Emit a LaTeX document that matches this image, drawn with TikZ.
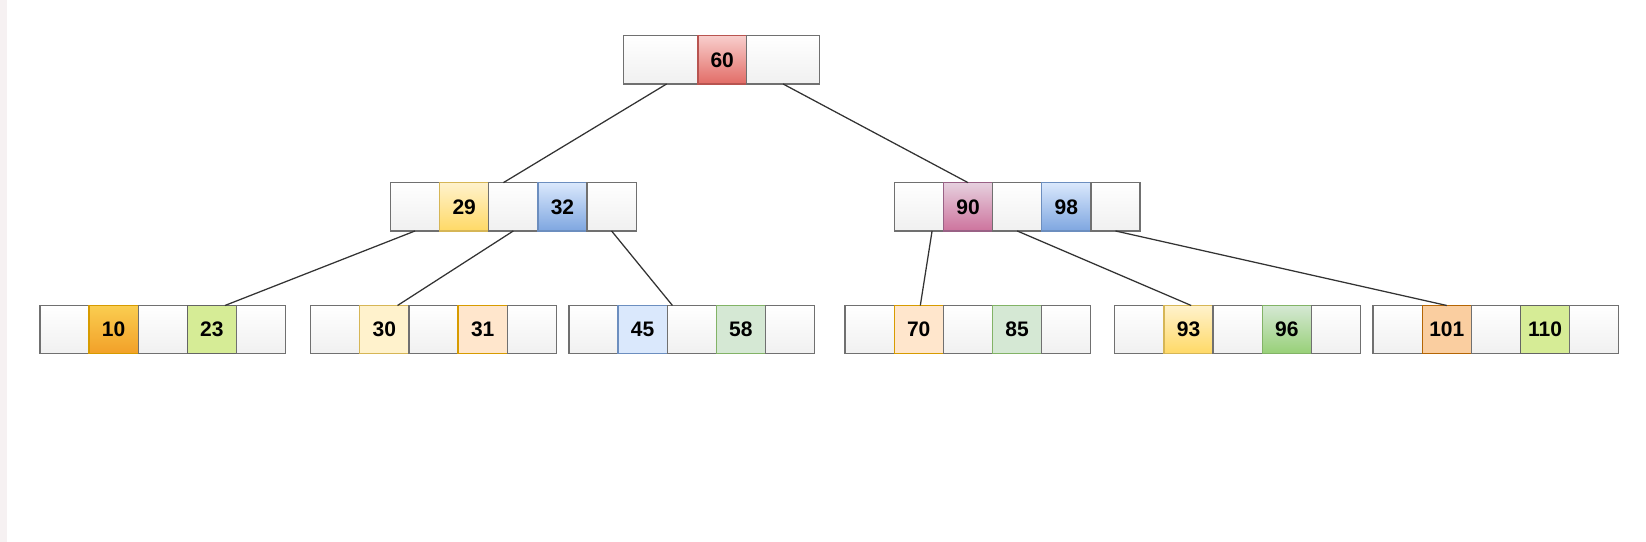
\documentclass[tikz,border=0pt]{standalone}
\usepackage{fontspec}
\setmainfont{Liberation Sans}
\usetikzlibrary{positioning}

\definecolor{boxline}{HTML}{707070}
\definecolor{emptygray}{HTML}{F0F0F0}
\definecolor{edgegray}{HTML}{333333}
\definecolor{strip}{HTML}{F6F1F2}
\definecolor{redline}{HTML}{B85450}
\definecolor{redtop}{HTML}{F8CECC}
\definecolor{redbot}{HTML}{E26C66}
\definecolor{yelline}{HTML}{D6B656}
\definecolor{yeltop}{HTML}{FFF2CC}
\definecolor{yelbot}{HTML}{FFD966}
\definecolor{blueline}{HTML}{6C8EBF}
\definecolor{bluetop}{HTML}{DAE8FC}
\definecolor{bluebot}{HTML}{7EA6E0}
\definecolor{pinkline}{HTML}{996185}
\definecolor{pinktop}{HTML}{E6D0DE}
\definecolor{pinkbot}{HTML}{CD739D}
\definecolor{orgline}{HTML}{D79B00}
\definecolor{orgtop}{HTML}{FACD50}
\definecolor{orgbot}{HTML}{F2A028}
\definecolor{orgfill}{HTML}{FFE6CC}
\definecolor{limeline}{HTML}{646464}
\definecolor{limefill}{HTML}{D6EC96}
\definecolor{grnline}{HTML}{82B366}
\definecolor{grntop}{HTML}{D5E8D4}
\definecolor{grnbot}{HTML}{97D077}
\definecolor{peachline}{HTML}{B46504}
\definecolor{peachfill}{HTML}{FACEA0}

\begin{document}
\begin{tikzpicture}[x=0.5pt,y=-0.5pt,
  box/.style={draw=boxline, line width=0.6pt, minimum height=23pt, minimum width=23.4pt,
    inner sep=0pt, outer sep=0pt, font=\fontsize{10}{10}\selectfont\bfseries},
  empty/.style={box, top color=white, bottom color=emptygray},
  shadekey/.style n args={3}{box, draw=#1, top color=#2, bottom color=#3},
  flatkey/.style n args={2}{box, draw=#1, fill=#2},
  wide/.style={minimum width=35.5pt},
  edge/.style={draw=edgegray, line width=0.6pt}]
  \useasboundingbox (0,0) rectangle (1568,516);
  \fill[strip] (0,0) rectangle (7,516);

  % root
  \node[empty, wide, anchor=north west] (r1) at (594,34) {};
  \node[shadekey={redline}{redtop}{redbot}, minimum width=23pt, right=0pt of r1] (r2) {60};
  \node[empty, minimum width=35pt, right=0pt of r2] (r3) {};

  % second level, left
  \node[empty, anchor=north west] (m1) at (372,174) {};
  \node[shadekey={yelline}{yeltop}{yelbot}, right=0pt of m1] (m2) {29};
  \node[empty, right=0pt of m2] (m3) {};
  \node[shadekey={blueline}{bluetop}{bluebot}, right=0pt of m3] (m4) {32};
  \node[empty, right=0pt of m4] (m5) {};

  % second level, right
  \node[empty, anchor=north west] (n1) at (852,174) {};
  \node[shadekey={pinkline}{pinktop}{pinkbot}, right=0pt of n1] (n2) {90};
  \node[empty, right=0pt of n2] (n3) {};
  \node[shadekey={blueline}{bluetop}{bluebot}, right=0pt of n3] (n4) {98};
  \node[empty, right=0pt of n4] (n5) {};

  % leaves
  \node[empty, anchor=north west] (a1) at (38,291) {};
  \node[shadekey={orgline}{orgtop}{orgbot}, right=0pt of a1] (a2) {10};
  \node[empty, right=0pt of a2] (a3) {};
  \node[flatkey={limeline}{limefill}, right=0pt of a3] (a4) {23};
  \node[empty, right=0pt of a4] (a5) {};

  \node[empty, anchor=north west] (b1) at (296,291) {};
  \node[flatkey={yelline}{yeltop}, right=0pt of b1] (b2) {30};
  \node[empty, right=0pt of b2] (b3) {};
  \node[flatkey={orgline}{orgfill}, right=0pt of b3] (b4) {31};
  \node[empty, right=0pt of b4] (b5) {};

  \node[empty, anchor=north west] (c1) at (542,291) {};
  \node[flatkey={blueline}{bluetop}, right=0pt of c1] (c2) {45};
  \node[empty, right=0pt of c2] (c3) {};
  \node[flatkey={grnline}{grntop}, right=0pt of c3] (c4) {58};
  \node[empty, right=0pt of c4] (c5) {};

  \node[empty, anchor=north west] (d1) at (805,291) {};
  \node[flatkey={orgline}{orgfill}, right=0pt of d1] (d2) {70};
  \node[empty, right=0pt of d2] (d3) {};
  \node[flatkey={grnline}{grntop}, right=0pt of d3] (d4) {85};
  \node[empty, right=0pt of d4] (d5) {};

  \node[empty, anchor=north west] (e1) at (1062,291) {};
  \node[shadekey={yelline}{yeltop}{yelbot}, right=0pt of e1] (e2) {93};
  \node[empty, right=0pt of e2] (e3) {};
  \node[shadekey={grnline}{grntop}{grnbot}, right=0pt of e3] (e4) {96};
  \node[empty, right=0pt of e4] (e5) {};

  \node[empty, anchor=north west] (f1) at (1308,291) {};
  \node[flatkey={peachline}{peachfill}, right=0pt of f1] (f2) {101};
  \node[empty, right=0pt of f2] (f3) {};
  \node[flatkey={limeline}{limefill}, right=0pt of f3] (f4) {110};
  \node[empty, right=0pt of f4] (f5) {};

  % links
  \draw[edge] ([xshift=2.75pt]r1.south) -- ([xshift=-4.75pt]m3.north);
  \draw[edge] (r3.south) -- (n2.north);
  \draw[edge] (m1.south) -- ([xshift=6.25pt]a4.north);
  \draw[edge] (m3.south) -- ([xshift=6.25pt]b2.north);
  \draw[edge] (m5.south) -- ([xshift=2.5pt]c3.north west);
  \draw[edge] ([xshift=6.25pt]n1.south) -- ([xshift=0.75pt]d2.north);
  \draw[edge] (n3.south) -- ([xshift=1.25pt]e2.north);
  \draw[edge] (n5.south) -- (f2.north);
\end{tikzpicture}
\end{document}
